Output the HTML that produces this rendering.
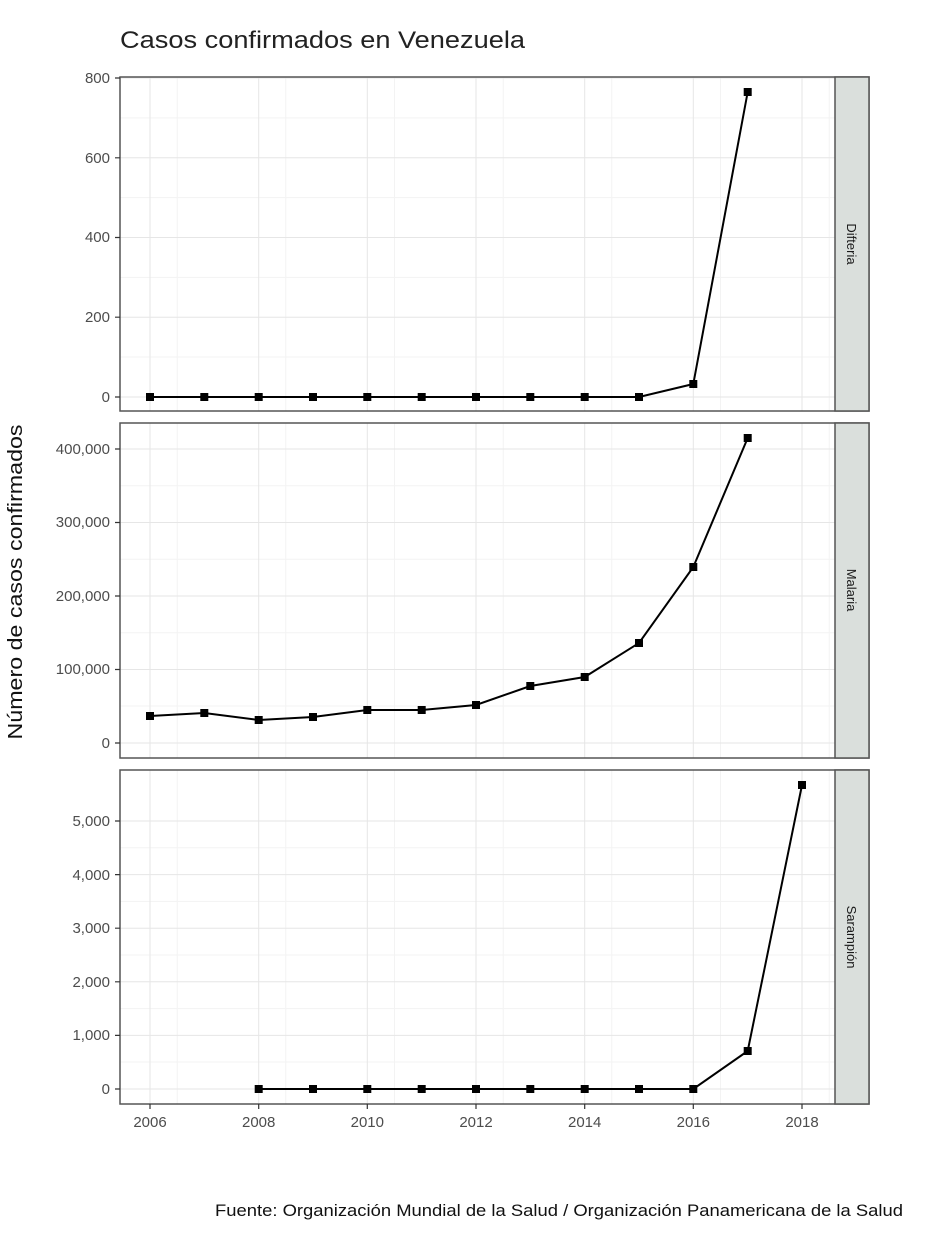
<!DOCTYPE html>
<html><head><meta charset="utf-8"><style>body{margin:0;background:#fff}svg{display:block}text{font-family:"Liberation Sans",sans-serif}</style></head><body>
<svg width="946" height="1252" viewBox="0 0 946 1252" xmlns="http://www.w3.org/2000/svg">
<text x="120" y="48" font-size="24" fill="#222" textLength="405" lengthAdjust="spacingAndGlyphs">Casos confirmados en Venezuela</text>
<text transform="translate(22,582) rotate(-90)" font-size="20" fill="#111" text-anchor="middle" textLength="315" lengthAdjust="spacingAndGlyphs">Número de casos confirmados</text>
<text x="215" y="1216" font-size="17" fill="#111" textLength="688" lengthAdjust="spacingAndGlyphs">Fuente: Organización Mundial de la Salud / Organización Panamericana de la Salud</text>
<g stroke-width="1">
<g stroke="#f3f3f3">
<path d="M177.2 77V411M285.8 77V411M394.5 77V411M503.2 77V411M611.8 77V411M720.5 77V411M829.2 77V411"/>
<path d="M177.2 423V758M285.8 423V758M394.5 423V758M503.2 423V758M611.8 423V758M720.5 423V758M829.2 423V758"/>
<path d="M177.2 770V1104M285.8 770V1104M394.5 770V1104M503.2 770V1104M611.8 770V1104M720.5 770V1104M829.2 770V1104"/>
<path d="M120 357H835M120 277.4H835M120 197.6H835M120 117.9H835M120 706H835M120 632.8H835M120 559.3H835M120 485.8H835M120 1062H835M120 1008.6H835M120 955H835M120 901.4H835M120 847.8H835"/>
</g>
<g stroke="#e6e6e6">
<path d="M150 77V411M258.7 77V411M367.3 77V411M476 77V411M584.7 77V411M693.3 77V411M802 77V411"/>
<path d="M150 423V758M258.7 423V758M367.3 423V758M476 423V758M584.7 423V758M693.3 423V758M802 423V758"/>
<path d="M150 770V1104M258.7 770V1104M367.3 770V1104M476 770V1104M584.7 770V1104M693.3 770V1104M802 770V1104"/>
<path d="M120 397H835M120 317.2H835M120 237.5H835M120 157.8H835M120 78H835M120 743H835M120 669.5H835M120 596H835M120 522.5H835M120 449H835M120 1089H835M120 1035.4H835M120 981.8H835M120 928.2H835M120 874.6H835M120 821H835"/>
</g>
</g>
<g fill="none" stroke="#555" stroke-width="1.5">
<rect x="120" y="77" width="749" height="334"/><rect x="120" y="423" width="749" height="335"/><rect x="120" y="770" width="749" height="334"/>
</g>
<g fill="#dadfdc" stroke="#555" stroke-width="1.5">
<rect x="835" y="77" width="34" height="334"/><rect x="835" y="423" width="34" height="335"/><rect x="835" y="770" width="34" height="334"/>
</g>
<g font-size="13" fill="#1a1a1a" text-anchor="middle">
<text transform="translate(847,244) rotate(90)">Difteria</text>
<text transform="translate(847,590) rotate(90)">Malaria</text>
<text transform="translate(847,937) rotate(90)">Sarampión</text>
</g>
<g stroke="#333" stroke-width="1.2">
<path d="M115 397H120M115 317.2H120M115 237.5H120M115 157.8H120M115 78H120M115 743H120M115 669.5H120M115 596H120M115 522.5H120M115 449H120M115 1089H120M115 1035.4H120M115 981.8H120M115 928.2H120M115 874.6H120M115 821H120"/>
<path d="M150 1104V1109M258.7 1104V1109M367.3 1104V1109M476 1104V1109M584.7 1104V1109M693.3 1104V1109M802 1104V1109"/>
</g>
<g font-size="15" fill="#4d4d4d" text-anchor="end">
<text x="110" y="402">0</text><text x="110" y="322">200</text><text x="110" y="242">400</text><text x="110" y="163">600</text><text x="110" y="83">800</text>
<text x="110" y="748">0</text><text x="110" y="674">100,000</text><text x="110" y="601">200,000</text><text x="110" y="527">300,000</text><text x="110" y="454">400,000</text>
<text x="110" y="1094">0</text><text x="110" y="1040">1,000</text><text x="110" y="987">2,000</text><text x="110" y="933">3,000</text><text x="110" y="880">4,000</text><text x="110" y="826">5,000</text>
</g>
<g font-size="15" fill="#4d4d4d" text-anchor="middle">
<text x="150" y="1127">2006</text><text x="258.7" y="1127">2008</text><text x="367.3" y="1127">2010</text><text x="476" y="1127">2012</text><text x="584.7" y="1127">2014</text><text x="693.3" y="1127">2016</text><text x="802" y="1127">2018</text>
</g>
<g fill="none" stroke="#000" stroke-width="2">
<polyline points="150,397 204.3,397 258.7,397 313,397 367.3,397 421.7,397 476,397 530.3,397 584.7,397 639,397 693.3,384 747.7,92"/>
<polyline points="150,716 204.3,713 258.7,720 313,717 367.3,710 421.7,710 476,705 530.3,686 584.7,677 639,643 693.3,567 747.7,438"/>
<polyline points="258.7,1089 313,1089 367.3,1089 421.7,1089 476,1089 530.3,1089 584.7,1089 639,1089 693.3,1089 747.7,1051 802,785"/>
</g>
<g fill="#000">
<rect x="146" y="393" width="8" height="8"/><rect x="200.3" y="393" width="8" height="8"/><rect x="254.7" y="393" width="8" height="8"/><rect x="309" y="393" width="8" height="8"/><rect x="363.3" y="393" width="8" height="8"/><rect x="417.7" y="393" width="8" height="8"/><rect x="472" y="393" width="8" height="8"/><rect x="526.3" y="393" width="8" height="8"/><rect x="580.7" y="393" width="8" height="8"/><rect x="635" y="393" width="8" height="8"/><rect x="689.3" y="380" width="8" height="8"/><rect x="743.7" y="88" width="8" height="8"/>
<rect x="146" y="712" width="8" height="8"/><rect x="200.3" y="709" width="8" height="8"/><rect x="254.7" y="716" width="8" height="8"/><rect x="309" y="713" width="8" height="8"/><rect x="363.3" y="706" width="8" height="8"/><rect x="417.7" y="706" width="8" height="8"/><rect x="472" y="701" width="8" height="8"/><rect x="526.3" y="682" width="8" height="8"/><rect x="580.7" y="673" width="8" height="8"/><rect x="635" y="639" width="8" height="8"/><rect x="689.3" y="563" width="8" height="8"/><rect x="743.7" y="434" width="8" height="8"/>
<rect x="254.7" y="1085" width="8" height="8"/><rect x="309" y="1085" width="8" height="8"/><rect x="363.3" y="1085" width="8" height="8"/><rect x="417.7" y="1085" width="8" height="8"/><rect x="472" y="1085" width="8" height="8"/><rect x="526.3" y="1085" width="8" height="8"/><rect x="580.7" y="1085" width="8" height="8"/><rect x="635" y="1085" width="8" height="8"/><rect x="689.3" y="1085" width="8" height="8"/><rect x="743.7" y="1047" width="8" height="8"/><rect x="798" y="781" width="8" height="8"/>
</g>
</svg>
</body></html>
